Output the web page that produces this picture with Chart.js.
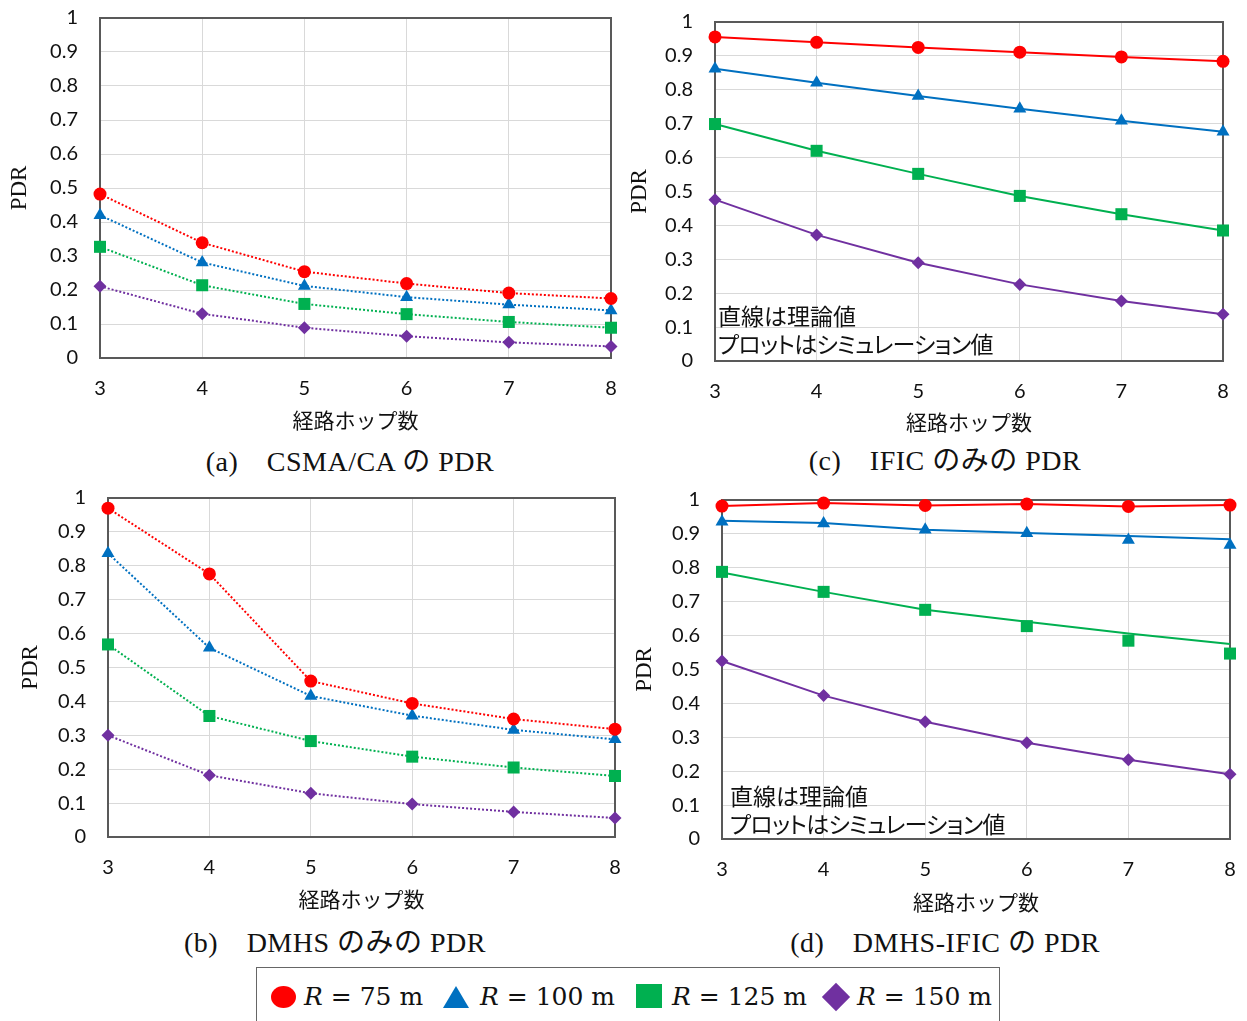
<!DOCTYPE html>
<html>
<head>
<meta charset="utf-8">
<script src="https://cdn.jsdelivr.net/npm/chart.js@4/dist/chart.umd.min.js"></script>
<style>
html, body { margin: 0; padding: 0; background: #fff; width: 1247px; height: 1021px; overflow: hidden; }
canvas { position: absolute; }
.t { position: absolute; white-space: nowrap; color: #111; }
.cap { font-family: "Liberation Serif", "Noto Sans CJK JP", serif; font-size: 28px; letter-spacing: 0.5px; transform: translate(-50%, -50%); line-height: 32px; }
.note { font-family: "Noto Sans CJK JP", sans-serif; font-size: 23px; line-height: 28px; font-feature-settings: "palt"; }
.note span { letter-spacing: -0.8px; }
.leg { font-family: "DejaVu Serif", serif; font-size: 25px; line-height: 30px; transform: translateY(-50%); }
.leg i { font-style: italic; }
#legbox { position: absolute; left: 256px; top: 967px; width: 744px; height: 70px; border: 1.5px solid #666; box-sizing: border-box; }
</style>
</head>
<body>
<canvas id="ca" width="625" height="433" style="left:0px;top:0px;"></canvas>
<canvas id="cc" width="625" height="435" style="left:620px;top:0px;"></canvas>
<canvas id="cb" width="630" height="432" style="left:0px;top:480px;"></canvas>
<canvas id="cd" width="627" height="435" style="left:620px;top:480px;"></canvas>

<div class="t cap" style="left:350px;top:462px;">(a)　CSMA/CA の PDR</div>
<div class="t cap" style="left:945px;top:461px;">(c)　IFIC のみの PDR</div>
<div class="t cap" style="left:335px;top:943px;">(b)　DMHS のみの PDR</div>
<div class="t cap" style="left:945px;top:943px;">(d)　DMHS-IFIC の PDR</div>

<div class="t note" style="left:718px;top:301px;">直線は理論値<br><span>プロットはシミュレーション値</span></div>
<div class="t note" style="left:730px;top:781px;">直線は理論値<br><span>プロットはシミュレーション値</span></div>

<div id="legbox"></div>
<div style="position:absolute;left:271px;top:986px;width:25px;height:22px;border-radius:50%;background:#ff0000;"></div>
<div class="t leg" style="left:304px;top:997px;"><i>R</i> = 75 m</div>
<div style="position:absolute;left:443px;top:986px;width:0;height:0;border-left:13.5px solid transparent;border-right:13.5px solid transparent;border-bottom:22px solid #0070c0;"></div>
<div class="t leg" style="left:480px;top:997px;"><i>R</i> = 100 m</div>
<div style="position:absolute;left:636px;top:984px;width:26px;height:24px;background:#00b050;"></div>
<div class="t leg" style="left:672px;top:997px;"><i>R</i> = 125 m</div>
<div style="position:absolute;left:826px;top:987px;width:20px;height:20px;background:#7030a0;transform:rotate(45deg);"></div>
<div class="t leg" style="left:857px;top:997px;"><i>R</i> = 150 m</div>

<script>
// ---- shared axis data ----
const hops = [3, 4, 5, 6, 7, 8];
const yTicks = [0, 0.1, 0.2, 0.3, 0.4, 0.5, 0.6, 0.7, 0.8, 0.9, 1];
const yTickLabels = ['0', '0.1', '0.2', '0.3', '0.4', '0.5', '0.6', '0.7', '0.8', '0.9', '1'];
const xTitle = '経路ホップ数';
const yTitle = 'PDR';
const seriesLabels = ['R = 75 m', 'R = 100 m', 'R = 125 m', 'R = 150 m'];
const seriesColors = ['#ff0000', '#0070c0', '#00b050', '#7030a0'];
const seriesShapes = ['circle', 'triangle', 'rect', 'rectRot'];
const seriesRadii = [6.5, 7.5, 8.5, 6.5];

// ---- (a) CSMA/CA ----
const csma75  = [0.482, 0.339, 0.254, 0.219, 0.191, 0.175];
const csma100 = [0.420, 0.281, 0.212, 0.179, 0.157, 0.140];
const csma125 = [0.327, 0.214, 0.159, 0.129, 0.106, 0.089];
const csma150 = [0.211, 0.130, 0.089, 0.064, 0.046, 0.034];

// ---- (b) DMHS only ----
const dmhs75  = [0.970, 0.776, 0.460, 0.394, 0.348, 0.318];
const dmhs100 = [0.837, 0.558, 0.416, 0.358, 0.316, 0.288];
const dmhs125 = [0.568, 0.357, 0.283, 0.237, 0.205, 0.180];
const dmhs150 = [0.300, 0.182, 0.129, 0.097, 0.074, 0.056];

// ---- (c) IFIC only: theory (lines) and simulation (markers) ----
const ificTheory75  = [0.956, 0.940, 0.925, 0.911, 0.897, 0.884];
const ificTheory100 = [0.862, 0.821, 0.782, 0.744, 0.709, 0.676];
const ificTheory125 = [0.699, 0.620, 0.552, 0.487, 0.433, 0.385];
const ificTheory150 = [0.476, 0.372, 0.290, 0.226, 0.177, 0.138];
const ificSim75  = [0.956, 0.940, 0.925, 0.911, 0.897, 0.884];
const ificSim100 = [0.862, 0.821, 0.782, 0.744, 0.709, 0.676];
const ificSim125 = [0.699, 0.620, 0.552, 0.487, 0.433, 0.385];
const ificSim150 = [0.476, 0.372, 0.290, 0.226, 0.177, 0.138];

// ---- (d) DMHS-IFIC: theory (lines) and simulation (markers) ----
const bothTheory75  = [0.982, 0.991, 0.984, 0.988, 0.981, 0.985];
const bothTheory100 = [0.939, 0.932, 0.912, 0.903, 0.894, 0.884];
const bothTheory125 = [0.786, 0.729, 0.676, 0.641, 0.606, 0.575];
const bothTheory150 = [0.525, 0.423, 0.346, 0.284, 0.234, 0.191];
const bothSim75  = [0.982, 0.991, 0.984, 0.988, 0.981, 0.985];
const bothSim100 = [0.936, 0.931, 0.912, 0.902, 0.882, 0.867];
const bothSim125 = [0.788, 0.729, 0.676, 0.628, 0.585, 0.547];
const bothSim150 = [0.525, 0.423, 0.346, 0.284, 0.234, 0.191];

// ---- helpers ----
const frame = {
  id: 'frame',
  beforeDatasetsDraw(chart) {
    const { ctx, chartArea: a } = chart;
    ctx.save();
    ctx.strokeStyle = '#595959';
    ctx.lineWidth = 2;
    ctx.strokeRect(a.left, a.top, a.right - a.left, a.bottom - a.top);
    ctx.restore();
  }
};

function dotted(values, k) {
  return {
    label: seriesLabels[k], data: values,
    borderColor: seriesColors[k], backgroundColor: seriesColors[k],
    borderWidth: 2, borderDash: [2, 2], tension: 0,
    pointStyle: seriesShapes[k], pointRadius: seriesRadii[k], pointBorderWidth: 0,
    pointBackgroundColor: seriesColors[k], clip: false
  };
}
function markers(values, k) {
  return {
    label: seriesLabels[k], data: values, showLine: false,
    borderColor: seriesColors[k], backgroundColor: seriesColors[k],
    pointStyle: seriesShapes[k], pointRadius: seriesRadii[k], pointBorderWidth: 0,
    pointBackgroundColor: seriesColors[k], clip: false
  };
}
function theory(values, k) {
  return {
    label: seriesLabels[k] + ' (理論値)', data: values,
    borderColor: seriesColors[k], backgroundColor: seriesColors[k],
    borderWidth: 2, tension: 0, pointRadius: 0, clip: false
  };
}

function noPad(s) { s.paddingTop = 0; s.paddingBottom = 0; s.paddingLeft = 0; s.paddingRight = 0; }

function buildChart(id, g, datasets) {
  return new Chart(document.getElementById(id), {
    type: 'line',
    data: { labels: hops, datasets },
    plugins: [frame],
    options: {
      responsive: false, animation: false, devicePixelRatio: 1,
      layout: { autoPadding: false, padding: { top: g.padTop, right: g.padRight, left: 0, bottom: 0 } },
      plugins: { legend: { display: false }, tooltip: { enabled: false } },
      scales: {
        x: {
          type: 'category', offset: false,
          grid: { color: '#d9d9d9', drawTicks: false, lineWidth: 1 },
          border: { display: false },
          ticks: { padding: 19, color: '#111', font: { family: 'Lato', size: 20 }, maxRotation: 0, autoSkip: false },
          title: { display: true, text: xTitle, color: '#111', font: { family: '"Noto Sans CJK JP"', size: 21 }, padding: { top: 0, bottom: 0 } },
          afterFit: s => { s.height = g.xH; noPad(s); }
        },
        y: {
          type: 'linear', min: 0, max: 1,
          grid: { color: '#d9d9d9', drawTicks: false, lineWidth: 1 },
          border: { display: false },
          afterBuildTicks: s => { s.ticks = yTicks.map(v => ({ value: v })); },
          ticks: { padding: 22, color: '#111', font: { family: 'Lato', size: 20 }, callback: (v, i) => yTickLabels[i] },
          title: { display: true, text: yTitle, color: '#111', font: { family: '"Liberation Serif"', size: 23 }, padding: { top: g.yTitlePad, bottom: 0 } },
          afterFit: s => { s.width = g.yW; noPad(s); }
        }
      }
    }
  });
}

buildChart('ca', { padTop: 18, padRight: 14, xH: 75, yW: 100, yTitlePad: 6 }, [
  dotted(csma75, 0), dotted(csma100, 1), dotted(csma125, 2), dotted(csma150, 3)
]);
buildChart('cb', { padTop: 18, padRight: 15, xH: 75, yW: 108, yTitlePad: 17 }, [
  dotted(dmhs75, 0), dotted(dmhs100, 1), dotted(dmhs125, 2), dotted(dmhs150, 3)
]);
buildChart('cc', { padTop: 22, padRight: 22, xH: 74, yW: 95, yTitlePad: 6 }, [
  markers(ificSim75, 0), markers(ificSim100, 1), markers(ificSim125, 2), markers(ificSim150, 3),
  theory(ificTheory75, 0), theory(ificTheory100, 1), theory(ificTheory125, 2), theory(ificTheory150, 3)
]);
buildChart('cd', { padTop: 20, padRight: 17, xH: 76, yW: 102, yTitlePad: 11 }, [
  markers(bothSim75, 0), markers(bothSim100, 1), markers(bothSim125, 2), markers(bothSim150, 3),
  theory(bothTheory75, 0), theory(bothTheory100, 1), theory(bothTheory125, 2), theory(bothTheory150, 3)
]);
</script>
</body>
</html>
